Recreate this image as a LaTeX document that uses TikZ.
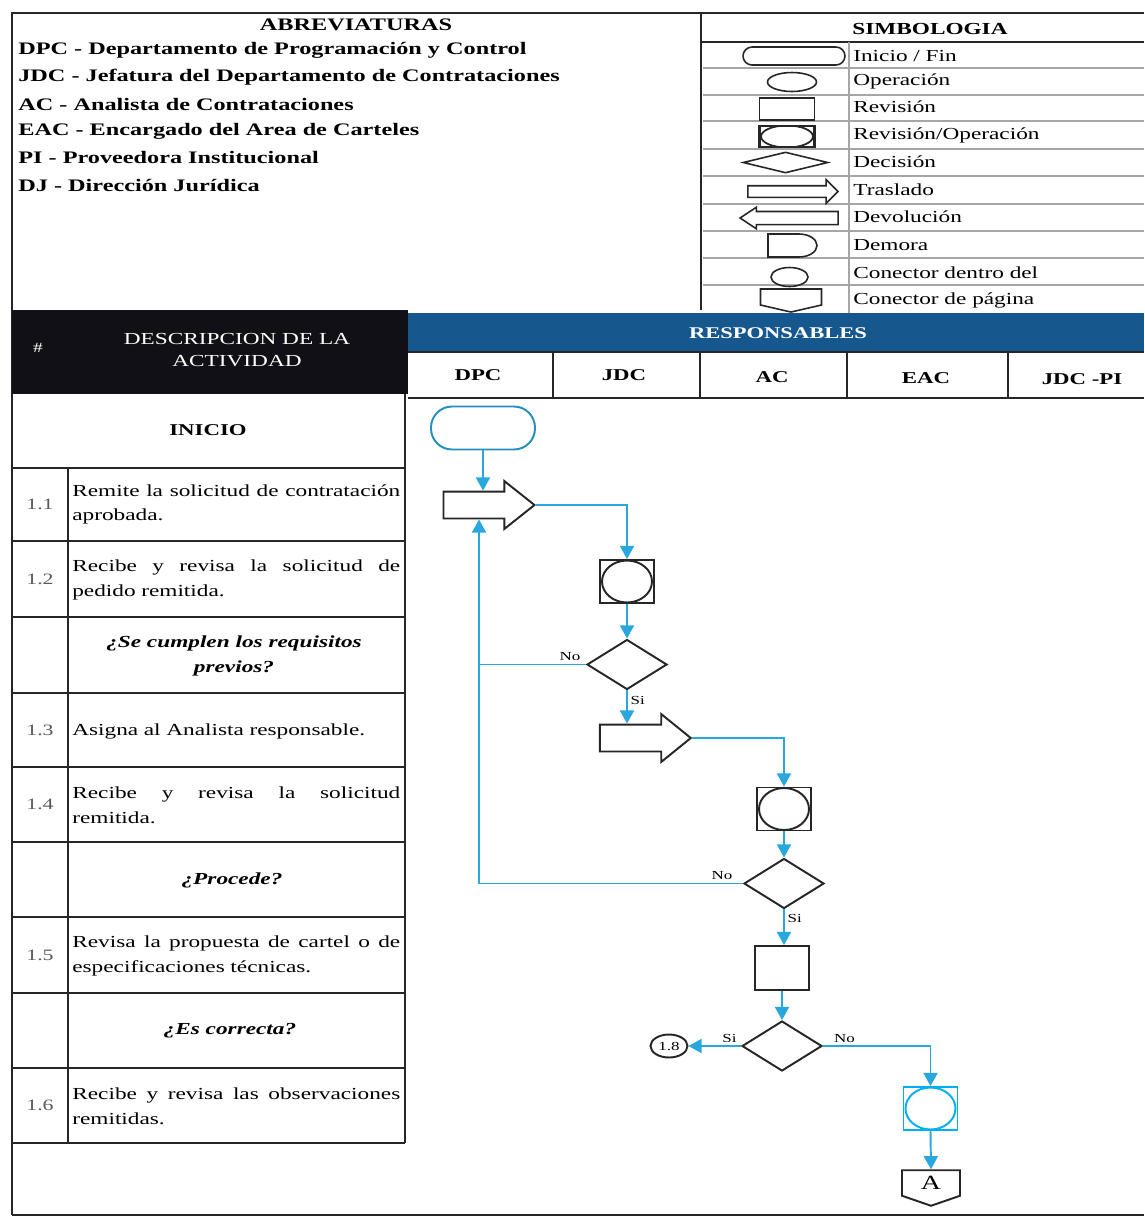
\documentclass[tikz,border=0pt]{standalone}
\usepackage{fontspec}
\setmainfont{Liberation Serif}[FakeStretch=1.38]
\usetikzlibrary{positioning,arrows.meta,shapes.geometric,shapes.misc,shapes.arrows,shapes.symbols}

\definecolor{flowblue}{RGB}{41,168,224}
\definecolor{boxblue}{RGB}{0,176,240}
\definecolor{barblue}{RGB}{22,88,142}
\definecolor{headblack}{RGB}{16,16,22}

% first line of a description, spread to the full width
\newcommand{\spreadline}[1]{\makebox[6.56cm][s]{\spaceskip=0.3em plus 1fil\relax #1}}

\tikzset{
  rule/.style={draw=black!85, line width=1.1pt},
  thinrule/.style={draw=black!35, line width=0.6pt},
  flow/.style={draw=flowblue, line width=1.1pt, -{Triangle[length=7.5pt,width=8pt]}},
  flowline/.style={draw=flowblue, line width=1.1pt},
  shp/.style={draw=black!85, line width=1.1pt, inner sep=0pt},
  lg/.style={draw=black!85, line width=0.9pt, inner sep=0pt},
  startbox/.style={rectangle, rounded corners=0.42cm, draw=flowblue!85!black, line width=1.1pt, minimum width=2.08cm, minimum height=0.86cm},
  revop/.style={shp, draw=#1, rectangle, minimum width=1.08cm, minimum height=0.86cm,
    path picture={\draw[#1, line width=1.1pt] (path picture bounding box.center) ellipse [x radius=0.5cm, y radius=0.42cm];}},
  revop/.default=black!85,
  decision/.style={shp, diamond, minimum width=1.6cm, minimum height=1.0cm},
  revbox/.style={shp, rectangle, minimum width=1.08cm, minimum height=0.88cm},
  traslado/.style={shp, single arrow, minimum height=1.82cm, minimum width=0.92cm, inner ysep=0.25cm, inner xsep=0pt,
    single arrow head extend=0.21cm, single arrow tip angle=77},
  connin/.style={shp, ellipse, minimum width=0.74cm, minimum height=0.46cm, font=\fontsize{7}{8}\selectfont},
  pagecon/.style={shp, signal, signal to=south, signal pointer angle=142, minimum width=1.16cm, minimum height=0.58cm, font=\fontsize{11.5}{12}\selectfont},
  lbl/.style={font=\fontsize{7}{8}\selectfont, inner sep=1.5pt},
  abbr/.style={anchor=west, inner sep=0pt, font=\bfseries\fontsize{10}{12}\selectfont},
  lgtxt/.style={anchor=west, inner sep=0pt, font=\fontsize{9.6}{11}\selectfont},
  rowtxt/.style={anchor=west, inner sep=0pt, text width=6.56cm, align=left, font=\fontsize{9.6}{14}\selectfont},
  question/.style={align=center, inner sep=0pt, font=\bfseries\itshape\fontsize{9.6}{14.5}\selectfont},
  num/.style={text=black!65, font=\fontsize{9}{10}\selectfont},
  colhead/.style={font=\bfseries\fontsize{9.4}{11}\selectfont}
}

\begin{document}
\begin{tikzpicture}[x=0.02cm, y=-0.02cm]
\useasboundingbox (0,0) rectangle (1144,1218);
\fill[white] (0,0) rectangle (1144,1218);

% Frame of the sheet
\draw[rule] (12,1215) -- (12,13) -- (1144,13);
\draw[rule] (12,1215) -- (1144,1215);
\draw[rule] (701,13) -- (701,310);

% Abbreviations
\node[font=\bfseries\fontsize{10}{12}\selectfont] (abtitle) at (356,25) {ABREVIATURAS};
\node[abbr] (ab1) at (18,50) {DPC - Departamento de Programación y Control};
\node[abbr] (ab2) at (18,77) {JDC - Jefatura del Departamento de Contrataciones};
\node[abbr] (ab3) at (18,104) {AC - Analista de Contrataciones};
\node[abbr] (ab4) at (18,131) {EAC - Encargado del Area de Carteles};
\node[abbr] (ab5) at (18,158) {PI - Proveedora Institucional};
\node[abbr] (ab6) at (18,185) {DJ - Dirección Jurídica};

% Symbol legend
\node[font=\bfseries\fontsize{9.6}{11}\selectfont] (lgtitle) at (930,29) {SIMBOLOGIA};
\draw[rule, line width=0.9pt] (701,42) -- (1144,42);
\foreach \y in {68,95,121,149,176,204,231,258,285}
  \draw[thinrule] (703,\y) -- (1144,\y);
\draw[thinrule] (849,42) -- (849,313);

\node[lg, rounded rectangle, minimum width=2.04cm, minimum height=0.36cm] (lg1) at (794,56) {};
\node[lg, ellipse, minimum width=0.98cm, minimum height=0.38cm] (lg2) at (792,82) {};
\node[lg, rectangle, minimum width=1.1cm, minimum height=0.44cm] (lg3) at (787,109) {};
\node[lg, rectangle, line width=1.2pt, minimum width=1.1cm, minimum height=0.42cm,
  path picture={\draw[line width=1pt] (path picture bounding box.center) ellipse [x radius=0.52cm, y radius=0.22cm];}] (lg4) at (787,136.5) {};
\node[lg, diamond, minimum width=1.7cm, minimum height=0.42cm] (lg5) at (785.5,162.5) {};
\node[lg, single arrow, minimum height=1.8cm, minimum width=0.44cm, inner ysep=0.1cm, inner xsep=0pt,
  single arrow head extend=0.12cm, single arrow tip angle=90] (lg6) at (790,191.5) {};
\node[lg, single arrow, shape border rotate=180, minimum height=1.96cm, minimum width=0.4cm, inner ysep=0.115cm, inner xsep=0pt,
  single arrow head extend=0.085cm, single arrow tip angle=67] (lg7) at (794,218) {};
\draw[lg] (768,234) -- (799,234) arc[start angle=90, end angle=-90, x radius=0.36cm, y radius=0.23cm] -- (768,257) -- cycle;
\node[lg, ellipse, minimum width=0.74cm, minimum height=0.38cm] (lg9) at (789.5,277) {};
\node[lg, signal, signal to=south, signal pointer angle=154, minimum width=1.22cm, minimum height=0.32cm] (lg10) at (791,297) {};

\node[lgtxt] (lt1) at (853,56) {Inicio / Fin};
\node[lgtxt] (lt2) at (853,81) {Operación};
\node[lgtxt] (lt3) at (853,107) {Revisión};
\node[lgtxt] (lt4) at (853,135) {Revisión/Operación};
\node[lgtxt] (lt5) at (853,162) {Decisión};
\node[lgtxt] (lt6) at (853,190) {Traslado};
\node[lgtxt] (lt7) at (853,217) {Devolución};
\node[lgtxt] (lt8) at (853,245) {Demora};
\node[lgtxt] (lt9) at (853,273) {Conector dentro del};
\node[lgtxt] (lt10) at (853,300) {Conector de página};

% Headers
\fill[headblack] (12,310) rectangle (408,394);
\fill[barblue] (408,313) rectangle (1144,352);
\node[text=white, font=\fontsize{8}{9}\selectfont] (hnum) at (38,348) {\#};
\node[text=white, align=center, font=\fontsize{9.6}{13}\selectfont] (hdesc) at (237,350) {DESCRIPCION DE LA\\ACTIVIDAD};
\node[text=white, font=\bfseries\fontsize{9.3}{11}\selectfont] (hresp) at (778,333) {RESPONSABLES};
\draw[rule] (408,352) -- (1144,352);
\draw[rule] (408,398) -- (1144,398);
\foreach \x in {553,700,847,1008}
  \draw[rule] (\x,352) -- (\x,398);
\node[colhead] (hdpc) at (478,375) {DPC};
\node[colhead] (hjdc) at (624,375) {JDC};
\node[colhead] (hac) at (772,377) {AC};
\node[colhead] (heac) at (926,378) {EAC};
\node[colhead] (hjpi) at (1082,379) {JDC -PI};

% Activity table
\draw[rule] (405,394) -- (405,1143);
\foreach \y in {468,541,617,693,767,842,917,993,1068,1143}
  \draw[rule] (12,\y) -- (405,\y);
\draw[rule] (68,468) -- (68,1143);

\node[font=\bfseries\fontsize{9.4}{11}\selectfont] (inicio) at (208,430) {INICIO};
\node[num] (n11) at (40,504.5) {1.1};
\node[rowtxt] (t11) at (72,504.5) {\spreadline{Remite la solicitud de contratación}\\aprobada.};
\node[num] (n12) at (40,579) {1.2};
\node[rowtxt] (t12) at (72,580) {\spreadline{Recibe y revisa la solicitud de}\\pedido remitida.};
\node[question] (q1) at (234,656) {¿Se cumplen los requisitos\\previos?};
\node[num] (n13) at (40,730) {1.3};
\node[rowtxt] (t13) at (72,731) {Asigna al Analista responsable.};
\node[num] (n14) at (40,804.5) {1.4};
\node[rowtxt] (t14) at (72,805) {\spreadline{Recibe y revisa la solicitud}\\remitida.};
\node[question] (q2) at (232,880) {¿Procede?};
\node[num] (n15) at (40,955) {1.5};
\node[rowtxt] (t15) at (72,956) {\spreadline{Revisa la propuesta de cartel o de}\\especificaciones técnicas.};
\node[question] (q3) at (230,1031) {¿Es correcta?};
\node[num] (n16) at (40,1105.5) {1.6};
\node[rowtxt] (t16) at (72,1106) {\spreadline{Recibe y revisa las observaciones}\\remitidas.};

% Flowchart
\node[startbox] (start) at (483,428) {};
\node[traslado] (tr1) at (480.5,505) {};
\node[revop] (ro1) at (627,581.5) {};
\node[decision] (d1) at (627,664.5) {};
\node[traslado, single arrow tip angle=78] (tr2) at (637,738) {};
\node[revop] (ro2) at (784,809) {};
\node[decision] (d2) at (784,883.5) {};
\node[revbox] (rev) at (782,968) {};
\node[decision] (d3) at (782,1046) {};
\node[connin] (c18) at (669,1046) {1.8};
\node[revop=boxblue] (ro3) at (930.5,1108.5) {};
\node[pagecon] (pga) at (931,1183) {A};
\coordinate (retx) at (479,0);

\draw[flow] (start.south) -- (start.south |- tr1.north);
\draw[flow] (tr1.tip) -| (ro1.north);
\draw[flow] (ro1.south) -- (d1.north);
\draw[flowline] (d1.west) -- node[lbl, pos=0.15, above] {No} (d1.west -| retx);
\draw[flow] (d1.south) -- node[lbl, pos=0.3, right] {Si} (d1.south |- tr2.north);
\draw[flow] (tr2.tip) -| (ro2.north);
\draw[flow] (ro2.south) -- (d2.north);
\draw[flow] (d2.west) -- node[lbl, pos=0.08, above] {No} (d2.west -| retx) -- (tr1.south -| retx);
\draw[flow] (d2.south) -- node[lbl, pos=0.25, right] {Si} (d2.south |- rev.north);
\draw[flow] (rev.south) -- (d3.north);
\draw[flow] (d3.west) -- node[lbl, pos=0.22, above] {Si} (c18.east);
\draw[flow] (d3.east) -| node[lbl, pos=0.1, above] {No} (ro3.north);
\draw[flow] (ro3.south) -- (pga.north);
\end{tikzpicture}
\end{document}
